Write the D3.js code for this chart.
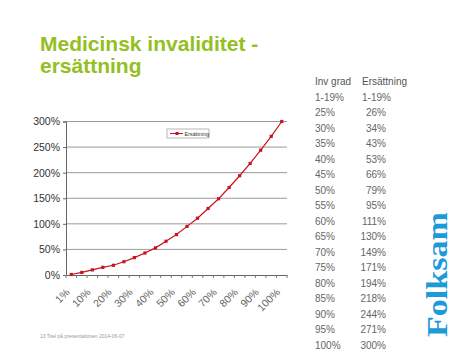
<!DOCTYPE html>
<html><head><meta charset="utf-8">
<script src="https://cdn.jsdelivr.net/npm/d3@7"></script>
<style>body{margin:0;background:#fff}svg{display:block}</style>
</head><body>
<script>
const categories = ["1%","5%","10%","15%","20%","25%","30%","35%","40%","45%","50%","55%","60%","65%","70%","75%","80%","85%","90%","95%","100%"];
const ersattning = [1,5,10,15,19,26,34,43,53,66,79,95,111,130,149,171,194,218,244,271,300];
const xTickLabels = ["1%","10%","20%","30%","40%","50%","60%","70%","80%","90%","100%"];
const yTicks = [0,50,100,150,200,250,300];
const tableInv = ["1-19%","25%","30%","35%","40%","45%","50%","55%","60%","65%","70%","75%","80%","85%","90%","95%","100%"];
const tableErs = ["1-19%","26%","34%","43%","53%","66%","79%","95%","111%","130%","149%","171%","194%","218%","244%","271%","300%"];

const W=474,H=355;
const svg=d3.select("body").append("svg").attr("width",W).attr("height",H);
const green="#93c01f", red="#c8141e";

// title
const title=svg.append("text").attr("font-family","Liberation Sans, Arial, sans-serif").attr("font-weight","bold").attr("font-size",21).attr("fill",green);
title.append("tspan").attr("x",40).attr("y",51).text("Medicinsk invaliditet -");
title.append("tspan").attr("x",40).attr("y",73).text("ersättning");

// chart
const L=66,R=287,T=121.5,B=275;
const x=d3.scaleBand().domain(categories).range([L,R]);
const y=d3.scaleLinear().domain([0,300]).range([B,T]);
const g=svg.append("g");

g.selectAll("line.grid").data(yTicks.filter(d=>d>0)).join("line")
 .attr("x1",L).attr("x2",R).attr("y1",d=>y(d)).attr("y2",d=>y(d))
 .attr("stroke","#9a9a9a").attr("stroke-width",1);

const yAxis=g.append("g").attr("transform",`translate(${L},0)`)
 .call(d3.axisLeft(y).tickValues(yTicks).tickSize(3).tickFormat(d=>d+"%"));
yAxis.select(".domain").attr("stroke","#666");
yAxis.selectAll(".tick line").attr("stroke","#666");
yAxis.selectAll("text").attr("font-family","Liberation Sans, Arial, sans-serif").attr("font-size",10.5).attr("fill","#333").attr("x",-6);

const xAxis=g.append("g").attr("transform",`translate(0,${B})`)
 .call(d3.axisBottom(x).tickSize(0).tickFormat(""));
xAxis.select(".domain").attr("stroke","#666");
// tick marks at band boundaries
const bounds=categories.map(c=>x(c)).concat([R]);
g.selectAll("line.xt").data(bounds).join("line")
 .attr("x1",d=>d).attr("x2",d=>d).attr("y1",B).attr("y2",B+3).attr("stroke","#777");

// x labels
g.selectAll("text.xl").data(xTickLabels).join("text")
 .attr("transform",d=>`translate(${x(d)+x.bandwidth()/2-1},${B+18}) rotate(-45)`)
 .attr("text-anchor","end").attr("font-family","Liberation Sans, Arial, sans-serif")
 .attr("font-size",10.5).attr("fill","#666").text(d=>d);

// line
const line=d3.line().x((d,i)=>x(categories[i])+x.bandwidth()/2).y(d=>y(d));
g.append("path").datum(ersattning).attr("d",line).attr("fill","none").attr("stroke",red).attr("stroke-width",1.2);
g.selectAll("rect.m").data(ersattning).join("rect")
 .attr("x",(d,i)=>x(categories[i])+x.bandwidth()/2-1.6).attr("y",d=>y(d)-1.6)
 .attr("width",3.2).attr("height",3.2).attr("fill",red);

// legend
const lg=svg.append("g");
lg.append("rect").attr("x",167).attr("y",129).attr("width",42).attr("height",9).attr("fill","#fff").attr("stroke","#888").attr("stroke-width",0.6);
lg.append("line").attr("x1",170).attr("x2",183).attr("y1",133.5).attr("y2",133.5).attr("stroke",red).attr("stroke-width",1);
lg.append("rect").attr("x",175.5).attr("y",132).attr("width",3).attr("height",3).attr("fill",red);
lg.append("text").attr("x",184.5).attr("y",135.5).attr("font-family","Liberation Sans, Arial, sans-serif").attr("font-size",5.5).attr("fill","#333").text("Ersättning");

// table
const tf="Liberation Sans, Arial, sans-serif";
svg.append("text").attr("x",315).attr("y",85).attr("font-family",tf).attr("font-size",10).attr("fill","#555").text("Inv grad");
svg.append("text").attr("x",362).attr("y",85).attr("font-family",tf).attr("font-size",10).attr("fill","#555").text("Ersättning");
svg.selectAll("text.ti").data(tableInv).join("text")
 .attr("x",315).attr("y",(d,i)=>100.5+i*15.5).attr("font-family",tf).attr("font-size",10).attr("fill","#666").text(d=>d);
svg.selectAll("text.te").data(tableErs).join("text")
 .attr("x",(d,i)=>i===0?362:386).attr("text-anchor",(d,i)=>i===0?"start":"end")
 .attr("y",(d,i)=>100.5+i*15.5).attr("font-family",tf).attr("font-size",10).attr("fill","#666").text(d=>d);

// Folksam logo
svg.append("text").attr("transform","translate(447,337) rotate(-90)")
 .attr("font-family","Liberation Serif, Times New Roman, serif").attr("font-weight","bold")
 .attr("font-size",29).attr("fill","#1d9ad8").attr("textLength",125).attr("lengthAdjust","spacingAndGlyphs").text("Folksam");

// footer
svg.append("text").attr("x",40).attr("y",338).attr("font-family",tf).attr("font-size",5).attr("fill","#999").text("13   Titel på presentationen   2014-06-07");
</script>
</body></html>
